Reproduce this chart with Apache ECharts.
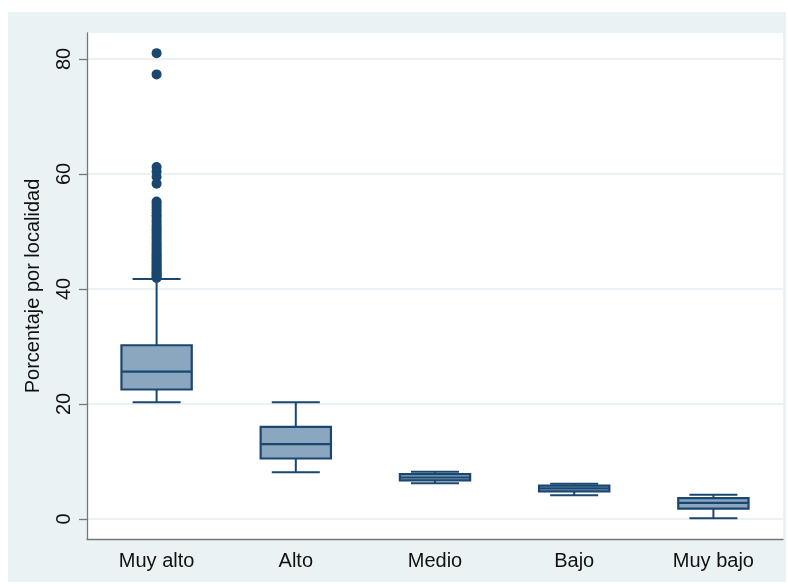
<!DOCTYPE html>
<html>
<head>
<meta charset="utf-8">
<script src="https://cdn.jsdelivr.net/npm/echarts@6/dist/echarts.min.js"></script>
<style>
html,body{margin:0;padding:0;background:#fff;}
#chart{width:788px;height:584px;}
</style>
</head>
<body>
<div id="chart"></div>
<script>
var categories = ['Muy alto', 'Alto', 'Medio', 'Bajo', 'Muy bajo'];
// [lower whisker, Q1, median, Q3, upper whisker]
var boxStats = [
  [20.3, 22.5, 25.6, 30.2, 41.7],
  [8.1, 10.5, 13.0, 16.0, 20.3],
  [6.2, 6.7, 7.2, 7.8, 8.2],
  [4.1, 4.8, 5.3, 5.8, 6.1],
  [0.1, 1.8, 2.8, 3.6, 4.2]
];
var outliersMuyAlto = [
  41.9, 42.1, 42.4, 42.6, 42.9, 43.1, 43.4, 43.7, 44.0, 44.3, 44.6, 44.9,
  45.2, 45.5, 45.8, 46.1, 46.4, 46.8, 47.1, 47.5, 47.8, 48.2, 48.6, 49.0,
  49.4, 49.8, 50.2, 50.6, 51.0, 51.5, 51.9, 52.4, 52.8, 53.3, 53.8, 54.3,
  54.8, 55.2, 58.3, 59.5, 60.4, 61.2, 77.3, 81.0
];
var yTicks = [0, 20, 40, 60, 80];

var navy = '#1a476f';
var boxFill = '#8ba6bf';

var boxData = boxStats.map(function (s, i) { return [i].concat(s); });
var outlierData = outliersMuyAlto.map(function (v) { return [0, v]; });

var chart = echarts.init(document.getElementById('chart'), null, {renderer: 'canvas'});
chart.setOption({
  backgroundColor: '#ffffff',
  animation: false,
  graphic: [{
    type: 'rect', z: -10, silent: true,
    shape: {x: 8, y: 12, width: 778, height: 570},
    style: {fill: '#eaf2f3'}
  }],
  grid: {
    left: 87, top: 33, right: 5, bottom: 45,
    show: true, backgroundColor: '#ffffff', borderWidth: 0
  },
  xAxis: {
    type: 'category',
    data: categories,
    boundaryGap: true,
    axisLine: {show: true, onZero: false, lineStyle: {color: '#777777', width: 1.3}},
    axisTick: {show: false},
    axisLabel: {
      color: '#111111', fontSize: 20, fontFamily: 'Liberation Sans, Arial, sans-serif',
      margin: 12
    },
    splitLine: {show: false}
  },
  yAxis: {
    type: 'value',
    min: -3.5, max: 84.5,
    name: 'Porcentaje por localidad',
    nameLocation: 'middle',
    nameGap: 44,
    nameRotate: 90,
    nameTextStyle: {color: '#111111', fontSize: 20, fontFamily: 'Liberation Sans, Arial, sans-serif'},
    axisLine: {show: true, onZero: false, lineStyle: {color: '#777777', width: 1.3}},
    axisTick: {show: true, length: 8, customValues: yTicks, lineStyle: {color: '#777777', width: 1.3}},
    axisLabel: {
      customValues: yTicks,
      rotate: 90,
      margin: 13,
      color: '#111111', fontSize: 20, fontFamily: 'Liberation Sans, Arial, sans-serif'
    },
    splitLine: {show: true, lineStyle: {color: '#e6eef0', width: 1.5}}
  },
  series: [
    {
      type: 'custom',
      data: boxData,
      encode: {x: 0, y: [1, 2, 3, 4, 5]},
      z: 3,
      renderItem: function (params, api) {
        var idx = api.value(0);
        var band = api.size([1, 0])[0];
        var bw = band * 0.505;
        var cw = band * 0.345;
        var pMin = api.coord([idx, api.value(1)]);
        var pQ1 = api.coord([idx, api.value(2)]);
        var pMed = api.coord([idx, api.value(3)]);
        var pQ3 = api.coord([idx, api.value(4)]);
        var pMax = api.coord([idx, api.value(5)]);
        var cx = pMed[0];
        var ls = {stroke: navy, lineWidth: 2};
        return {
          type: 'group',
          children: [
            {type: 'line', shape: {x1: cx, y1: pMax[1], x2: cx, y2: pQ3[1]}, style: ls},
            {type: 'line', shape: {x1: cx, y1: pQ1[1], x2: cx, y2: pMin[1]}, style: ls},
            {type: 'line', shape: {x1: cx - cw / 2, y1: pMax[1], x2: cx + cw / 2, y2: pMax[1]}, style: ls},
            {type: 'line', shape: {x1: cx - cw / 2, y1: pMin[1], x2: cx + cw / 2, y2: pMin[1]}, style: ls},
            {type: 'rect', shape: {x: cx - bw / 2, y: pQ3[1], width: bw, height: pQ1[1] - pQ3[1]},
             style: {fill: boxFill, stroke: navy, lineWidth: 2.2}},
            {type: 'line', shape: {x1: cx - bw / 2, y1: pMed[1], x2: cx + bw / 2, y2: pMed[1]}, style: {stroke: navy, lineWidth: 2.2}}
          ]
        };
      }
    },
    {
      type: 'scatter',
      data: outlierData,
      symbol: 'circle',
      symbolSize: 10,
      z: 4,
      itemStyle: {color: navy, opacity: 1}
    }
  ]
});
</script>
</body>
</html>
